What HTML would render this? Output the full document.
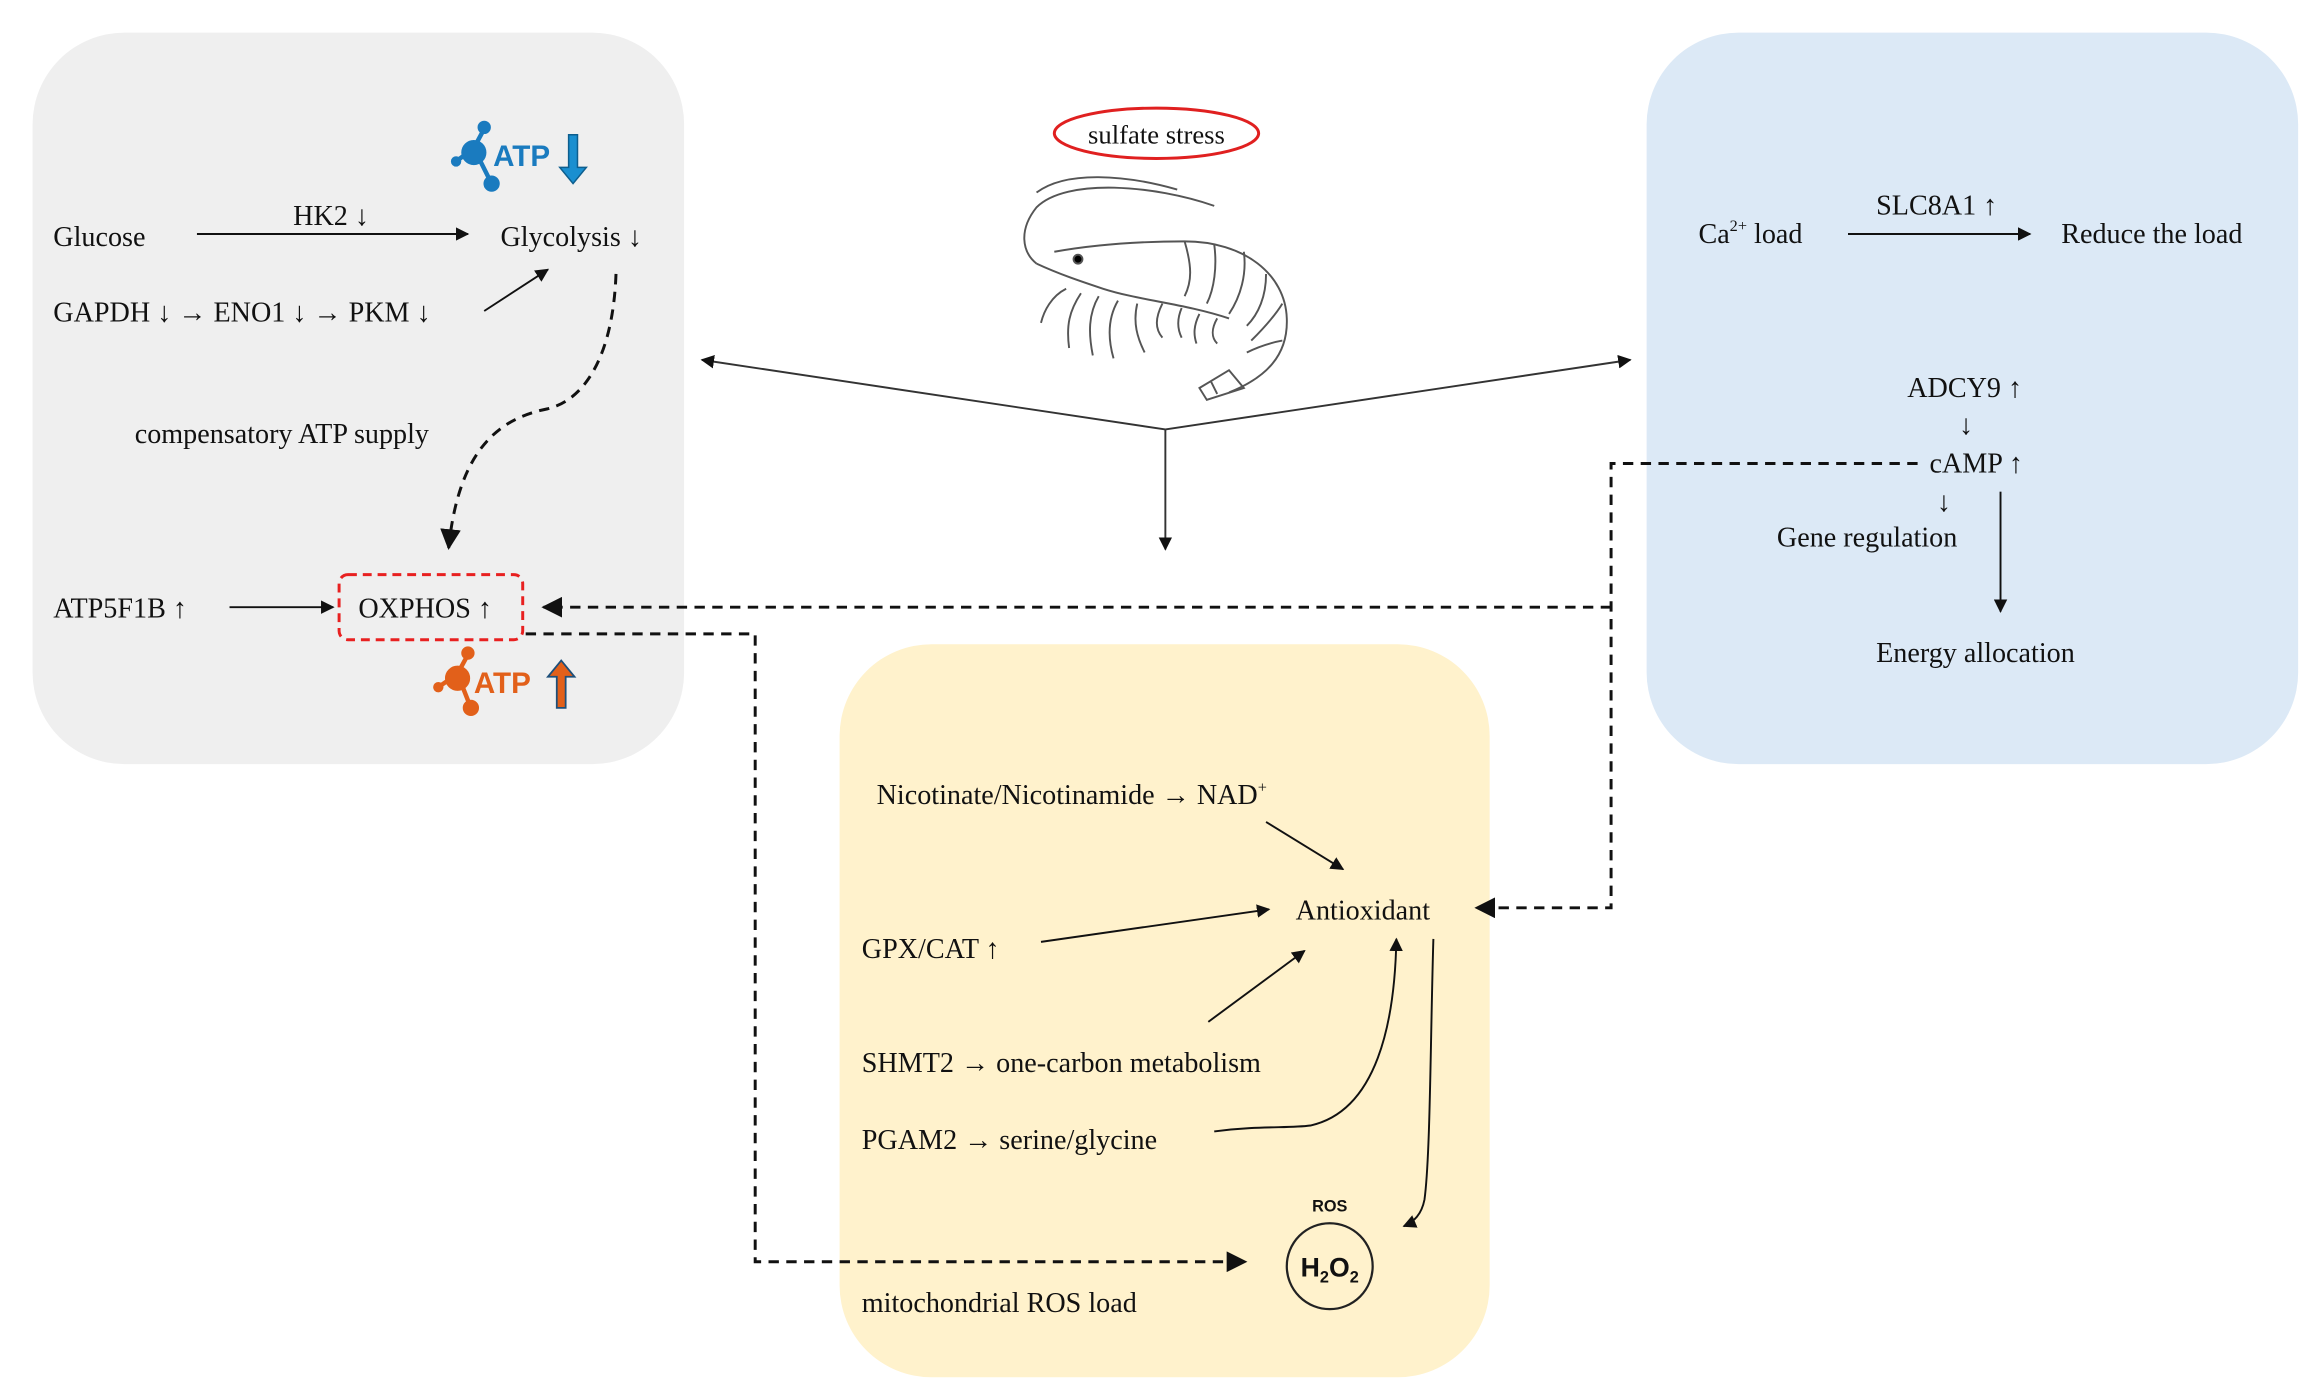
<!DOCTYPE html>
<html><head><meta charset="utf-8"><style>
html,body{margin:0;padding:0;background:#fff;}
svg{display:block;}
text{font-family:"Liberation Serif",serif;font-size:19px;fill:#111;}
.s{font-family:"Liberation Sans",sans-serif;font-weight:bold;}
</style></head><body>
<svg width="2310" height="1398" viewBox="0 0 1560 944" preserveAspectRatio="none" xmlns="http://www.w3.org/2000/svg">
<defs>
<marker id="a" viewBox="0 0 10 10" refX="9" refY="5" markerWidth="7" markerHeight="7" orient="auto-start-reverse"><path d="M0,0L10,5L0,10z" fill="#111"/></marker>
</defs>
<rect x="22" y="22" width="440" height="494" rx="62" fill="#efefef"/>
<rect x="1112" y="22" width="440" height="494" rx="62" fill="#dce9f6"/>
<rect x="567" y="435" width="439" height="495" rx="62" fill="#fff2cc"/>

<ellipse cx="781" cy="90" rx="69" ry="17" fill="none" stroke="#e02020" stroke-width="2"/>
<text x="781" y="97" text-anchor="middle" style="font-size:18px">sulfate stress</text>

<!-- shrimp -->
<g fill="none" stroke="#555" stroke-width="1.3">
<path d="M820,139 C780,125 720,120 700,140 C688,155 690,170 700,178"/>
<path d="M795,128 C760,118 720,115 700,130"/>
<path d="M712,170 C740,165 770,163 800,163 C840,163 868,185 869,215 C870,240 855,255 830,265"/>
<path d="M700,178 C715,185 730,190 745,195 C770,203 800,205 830,215"/>
<path d="M800,163 C805,180 805,190 800,200 M820,165 C822,180 820,195 815,205 M840,170 C842,185 838,200 830,212 M855,185 C855,200 850,212 842,220 M866,205 C860,215 850,225 845,230 M866,230 C855,232 848,235 842,238"/>
<path d="M830,250 L810,262 L815,270 L840,262 Z M818,258 L822,266"/>
<circle cx="728" cy="175" r="3" fill="#000"/>
<path d="M720,195 C710,200 705,210 703,218 M730,198 C722,210 720,220 722,235 M742,200 C735,212 735,225 738,240 M755,203 C748,215 748,228 752,242 M768,205 C765,218 768,228 773,238 M785,205 C780,215 780,222 785,228 M798,208 C795,215 795,222 798,228 M810,212 C806,220 806,226 808,232 M822,215 C818,222 818,228 822,232"/>
</g>

<!-- center arrows -->
<g stroke="#333" stroke-width="1.3" fill="none">
<path d="M787,290 L474,243" marker-end="url(#a)"/>
<path d="M787,290 L1101,243" marker-end="url(#a)"/>
<path d="M787,290 L787,371" marker-end="url(#a)"/>
</g>

<!-- left box -->
<text x="36" y="166">Glucose</text>
<text x="198" y="152">HK2 ↓</text>
<line x1="133" y1="158" x2="316" y2="158" stroke="#111" stroke-width="1.3" marker-end="url(#a)"/>
<text x="338" y="166">Glycolysis ↓</text>
<text x="36" y="217">GAPDH ↓ → ENO1 ↓ → PKM ↓</text>
<line x1="327" y1="210" x2="370" y2="182" stroke="#111" stroke-width="1.3" marker-end="url(#a)"/>
<path d="M416,185 C414,240 395,270 370,276 C340,282 310,300 303,370" fill="none" stroke="#111" stroke-width="2" stroke-dasharray="7,5" marker-end="url(#a)"/>
<text x="91" y="299">compensatory ATP supply</text>
<text x="36" y="417">ATP5F1B ↑</text>
<line x1="155" y1="410" x2="225" y2="410" stroke="#111" stroke-width="1.3" marker-end="url(#a)"/>
<rect x="229" y="388" width="124" height="44" rx="6" fill="none" stroke="#e82020" stroke-width="2" stroke-dasharray="6,4"/>
<text x="242" y="417">OXPHOS ↑</text>

<!-- ATP icons -->
<g fill="#1a7bbf" stroke="#1a7bbf">
<line x1="320" y1="100" x2="327" y2="87" stroke-width="3"/><line x1="320" y1="100" x2="332" y2="124" stroke-width="3"/><line x1="320" y1="100" x2="308" y2="109" stroke-width="3"/>
<circle cx="320" cy="103" r="8"/><circle cx="327" cy="86" r="4"/><circle cx="332" cy="124" r="5"/><circle cx="308" cy="109" r="3"/>
<path d="M384,91 L390,91 L390,113 L396,113 L387,124 L378,113 L384,113 Z" fill="#1a8fd0" stroke="#0d5e8e" stroke-width="1"/>
</g>
<text x="333" y="112" class="s" style="fill:#1a7bbf;font-size:20px">ATP</text>
<g fill="#e2601a" stroke="#e2601a">
<line x1="309" y1="455" x2="316" y2="442" stroke-width="3"/><line x1="309" y1="455" x2="318" y2="478" stroke-width="3"/><line x1="309" y1="455" x2="296" y2="464" stroke-width="3"/>
<circle cx="309" cy="458" r="8"/><circle cx="316" cy="441" r="4"/><circle cx="318" cy="478" r="5"/><circle cx="296" cy="464" r="3"/>
<path d="M376,478 L382,478 L382,457 L388,457 L379,446 L370,457 L376,457 Z" fill="#e2601a" stroke="#1d4f7a" stroke-width="1.2"/>
</g>
<text x="320" y="468" class="s" style="fill:#e2601a;font-size:20px">ATP</text>

<!-- dashed connectors -->
<g fill="none" stroke="#111" stroke-width="2" stroke-dasharray="7,5">
<path d="M1088,410 L367,410" marker-end="url(#a)"/>
<path d="M1295,313 L1088,313 L1088,613 L997,613" marker-end="url(#a)"/>
<path d="M355,428 L510,428 L510,852 L841,852" marker-end="url(#a)"/>
</g>

<!-- right box -->
<text x="1147" y="164">Ca<tspan style="font-size:11px" dy="-8">2+</tspan><tspan dy="8"> load</tspan></text>
<text x="1267" y="145">SLC8A1 ↑</text>
<line x1="1248" y1="158" x2="1371" y2="158" stroke="#111" stroke-width="1.3" marker-end="url(#a)"/>
<text x="1392" y="164">Reduce the load</text>
<text x="1288" y="268">ADCY9 ↑</text>
<text x="1323" y="293">↓</text>
<text x="1303" y="319">cAMP ↑</text>
<text x="1308" y="345">↓</text>
<text x="1200" y="369">Gene regulation</text>
<line x1="1351" y1="332" x2="1351" y2="413" stroke="#111" stroke-width="1.3" marker-end="url(#a)"/>
<text x="1267" y="447">Energy allocation</text>

<!-- yellow box -->
<text x="592" y="543">Nicotinate/Nicotinamide → NAD<tspan style="font-size:11px" dy="-8">+</tspan></text>
<line x1="855" y1="555" x2="907" y2="587" stroke="#111" stroke-width="1.3" marker-end="url(#a)"/>
<text x="875" y="621">Antioxidant</text>
<text x="582" y="647">GPX/CAT ↑</text>
<line x1="703" y1="636" x2="857" y2="614" stroke="#111" stroke-width="1.3" marker-end="url(#a)"/>
<text x="582" y="724">SHMT2 →  one-carbon metabolism</text>
<line x1="816" y1="690" x2="881" y2="642" stroke="#111" stroke-width="1.3" marker-end="url(#a)"/>
<text x="582" y="776">PGAM2 → serine/glycine</text>
<path d="M820,764 C850,760 870,762 885,760 C930,750 942,690 943,634" fill="none" stroke="#111" stroke-width="1.3" marker-end="url(#a)"/>
<path d="M968,634 C966,700 966,780 962,810 C960,820 955,825 948,828" fill="none" stroke="#111" stroke-width="1.3" marker-end="url(#a)"/>
<circle cx="898" cy="855" r="29" fill="none" stroke="#222" stroke-width="1.5"/>
<text x="898" y="818" text-anchor="middle" class="s" style="font-size:11px">ROS</text>
<text x="898" y="862" text-anchor="middle" class="s" style="font-size:18px">H<tspan style="font-size:11px" dy="4">2</tspan><tspan dy="-4">O</tspan><tspan style="font-size:11px" dy="4">2</tspan></text>
<text x="582" y="886">mitochondrial ROS load</text>
</svg>
</body></html>
